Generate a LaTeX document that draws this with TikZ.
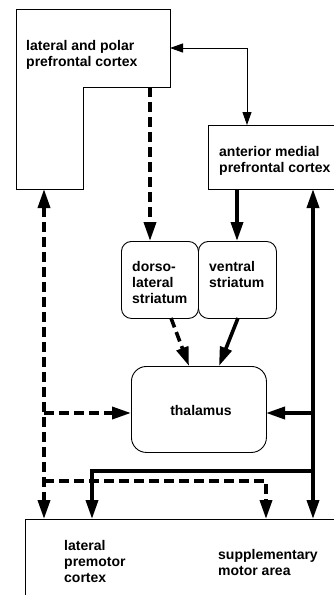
\documentclass[tikz,border=0pt]{standalone}
\usepackage{fontspec}
\setmainfont{Liberation Sans}
\usetikzlibrary{arrows.meta}
\begin{document}
\begin{tikzpicture}[x=1pt,y=-1pt,
  box/.style={draw, line width=0.9pt, inner sep=0pt, anchor=north west},
  rbox/.style={box, rounded corners=10pt},
  lbl/.style={font=\fontsize{14}{16}\selectfont\bfseries, align=left, inner sep=0pt, anchor=base west},
  thinarr/.style={line width=0.9pt},
  thickarr/.style={line width=3.6pt, -{Triangle[length=19pt,width=12pt]}},
  thickboth/.style={line width=3.6pt, {Triangle[length=19pt,width=12pt]}-{Triangle[length=19pt,width=12pt]}},
  dashpat/.style={dash pattern=on 10pt off 5pt},
]
\clip (0,0) rectangle (334,595);
\fill[white] (0,0) rectangle (334,595);

% lateral and polar prefrontal cortex (L-shaped)
\draw[line width=0.9pt] (16,9) -- (170,9) -- (170,87) -- (83,87) -- (83,189) -- (16,189) -- cycle;
\node[lbl] (lpt) at (26,66) {lateral and polar\\prefrontal cortex};
\coordinate (lpR) at (170,48);
\coordinate (lpB) at (150,87);
\coordinate (lpBL) at (44,189);

% anterior medial prefrontal cortex
\node[box, minimum width=140pt, minimum height=64pt] (am) at (208,125) {};
\node[lbl] (amt) at (219,172) {anterior medial\\prefrontal cortex};
\coordinate (amT) at (247,125);
\coordinate (amB1) at (237,189);
\coordinate (amB2) at (313,189);

% striatum
\node[rbox, minimum width=77pt, minimum height=77pt] (dl) at (121,241) {};
\node[rbox, minimum width=78pt, minimum height=77pt] (vs) at (198,241) {};
\node[lbl] (dlt) at (132,303) {dorso-\\lateral\\striatum};
\node[lbl] (vst) at (209,287) {ventral\\striatum};
\coordinate (dlT) at (150,241);
\coordinate (dlB) at (171,318);
\coordinate (vsT) at (237,241);
\coordinate (vsB) at (238,318);

% thalamus
\node[rbox, rounded corners=15pt, minimum width=135pt, minimum height=86pt] (th) at (131,366) {};
\node[font=\fontsize{14}{16}\selectfont\bfseries, inner sep=0pt] (tht) at (201,410) {thalamus};
\coordinate (thT1) at (189,366);
\coordinate (thT2) at (219,366);
\coordinate (thL) at (131,413);
\coordinate (thR) at (266,413);

% premotor / SMA
\node[box, minimum width=330pt, minimum height=100pt] (pm) at (25,519) {};
\node[lbl] (pmt) at (64,582) {lateral\\premotor\\cortex};
\node[lbl] (smat) at (218,575) {supplementary\\motor area};
\coordinate (pmT1) at (44,519);
\coordinate (pmT2) at (92,519);
\coordinate (pmT3) at (266,519);
\coordinate (pmT4) at (313,519);

% helper coordinates
\coordinate (rj1) at (313,413);
\coordinate (rj2) at (313,471);
\coordinate (lj1) at (44,413);
\coordinate (lj2) at (44,481);

% connectors
\draw[thinarr, {Triangle[length=13pt,width=9pt]}-{Triangle[length=13pt,width=9pt]}] (lpR) -| (amT);
\draw[thickarr, dashpat] (lpB) -- (dlT);
\draw[thickarr] (amB1) -- (vsT);
\draw[thickarr, dashpat] (dlB) -- (thT1);
\draw[thickarr] (vsB) -- (thT2);
\draw[thickboth] (amB2) -- (pmT4);
\draw[thickarr] (rj1) -- (thR);
\draw[thickboth, dashpat] (lpBL) -- (pmT1);
\draw[thickarr, dashpat] (lj1) -- (thL);
\draw[thickarr, dashpat] (lj2) -| (pmT3);
\draw[thickarr] (rj2) -| (pmT2);
\end{tikzpicture}
\end{document}
